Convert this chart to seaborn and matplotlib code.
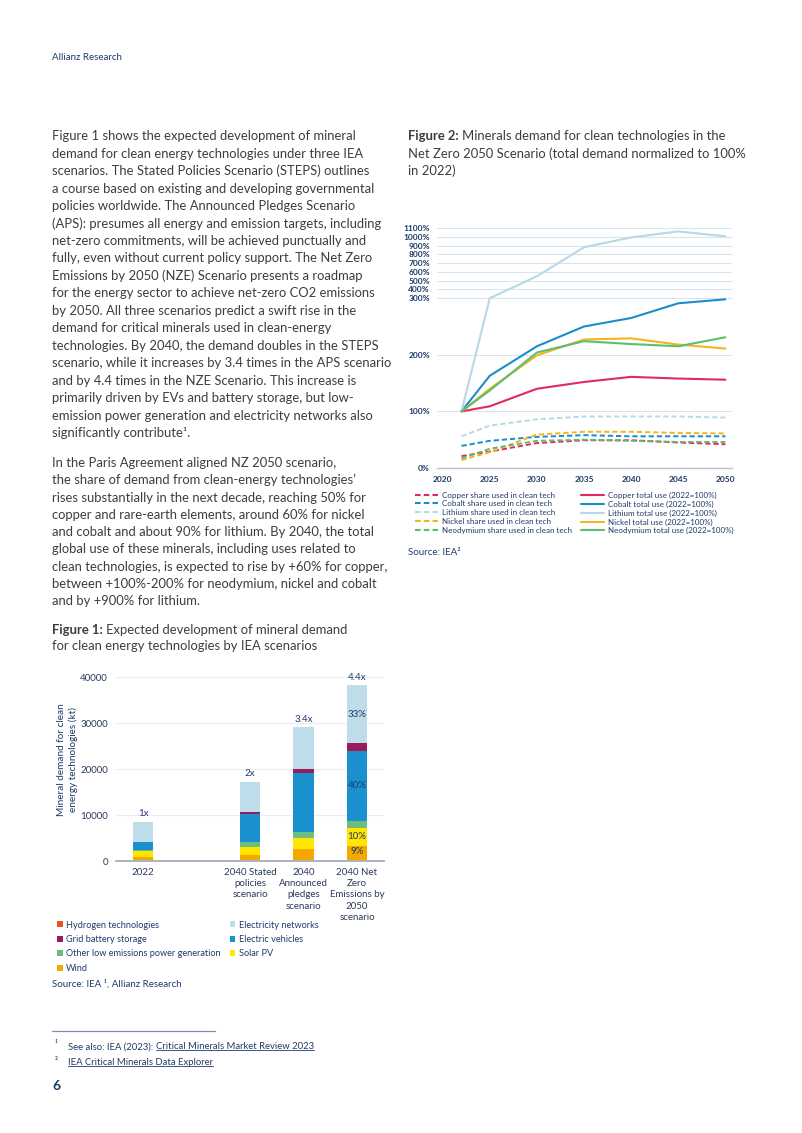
import numpy as np
import pandas as pd
import matplotlib.pyplot as plt
import seaborn as sns
from matplotlib.lines import Line2D
from matplotlib.patches import Patch
from matplotlib.transforms import IdentityTransform

W, H = 802, 1133
BODY = "#3d3d3d"
NAVY = "#1f3a6b"

# ---- Figure 1 data (kt of mineral demand, stacked) ----
categories = ["2022", "", "2040 Stated\npolicies\nscenario",
              "2040\nAnnounced\npledges\nscenario",
              "2040 Net\nZero\nEmissions by\n2050\nscenario"]
hydrogen = [60, 0, 150, 150, 200]
wind = [900, 0, 1230, 2460, 3130]
solar_pv = [1300, 0, 1740, 2540, 3990]
other_low = [250, 0, 1080, 1300, 1520]
electric_vehicles = [1650, 0, 6020, 12690, 15070]
grid_battery = [80, 0, 510, 1000, 1740]
networks = [4350, 0, 6570, 9000, 12680]
multipliers = ["1x", "", "2x", "3.4x", "4.4x"]

# ---- Figure 2 data (% , 2022 = 100%) ----
years = [2022, 2025, 2030, 2035, 2040, 2045, 2050]
copper_total = [100, 109, 140, 152, 161, 158, 156]
cobalt_total = [100, 163, 215, 250, 265, 291, 298]
lithium_total = [100, 300, 550, 880, 993, 1061, 1005]
nickel_total = [100, 140, 199, 227, 229, 218, 211]
neodymium_total = [100, 137, 204, 224, 219, 215, 231]
copper_share = [21, 29, 44, 49, 49, 45, 42]
cobalt_share = [39, 48, 55, 58, 56, 56, 56]
lithium_share = [56, 75, 86, 91, 91, 91, 89]
nickel_share = [14, 28, 59, 64, 64, 62, 61]
neodymium_share = [17, 34, 48, 50, 48, 46, 46]
minerals = ["Copper", "Cobalt", "Lithium", "Nickel", "Neodymium"]

para1 = [
    "Figure 1 shows the expected development of mineral",
    "demand for clean energy technologies under three IEA",
    "scenarios. The Stated Policies Scenario (STEPS) outlines",
    "a course based on existing and developing governmental",
    "policies worldwide. The Announced Pledges Scenario",
    "(APS): presumes all energy and emission targets, including",
    "net-zero commitments, will be achieved punctually and",
    "fully, even without current policy support. The Net Zero",
    "Emissions by 2050 (NZE) Scenario presents a roadmap",
    "for the energy sector to achieve net-zero CO2 emissions",
    "by 2050. All three scenarios predict a swift rise in the",
    "demand for critical minerals used in clean-energy",
    "technologies. By 2040, the demand doubles in the STEPS",
    "scenario, while it increases by 3.4 times in the APS scenario",
    "and by 4.4 times in the NZE Scenario. This increase is",
    "primarily driven by EVs and battery storage, but low-",
    "emission power generation and electricity networks also",
    "significantly contribute\u00b9.",
]
para2 = [
    "In the Paris Agreement aligned NZ 2050 scenario,",
    "the share of demand from clean-energy technologies\u2019",
    "rises substantially in the next decade, reaching 50% for",
    "copper and rare-earth elements, around 60% for nickel",
    "and cobalt and about 90% for lithium. By 2040, the total",
    "global use of these minerals, including uses related to",
    "clean technologies, is expected to rise by +60% for copper,",
    "between +100%-200% for neodymium, nickel and cobalt",
    "and by +900% for lithium.",
]

sns.set_theme(style="white")
plt.rcParams["font.family"] = ["Lato", "DejaVu Sans"]

fig = plt.figure(figsize=(W / 100, H / 100), dpi=100)


def fx(x):
    return x / W


def fy(y):
    return 1 - y / H


def put(x, y, s, size=9.4, color=BODY, weight="normal", **kw):
    # y is the visual centre of the line in pixels
    return fig.text(fx(x), fy(y + 3.6), s, fontsize=size, color=color,
                    fontweight=weight, va="baseline", ha="left", **kw)


def bold_lead(x, y, lead, rest, size=9.4):
    t = put(x, y, lead, size=size, weight="bold")
    return fig.add_artist(plt.Annotation(rest, xy=(1, 0), xycoords=t,
                                         xytext=(2.6, 0), textcoords="offset points",
                                         va="bottom", ha="left", fontsize=size,
                                         color=BODY))


# ---- page text ----
put(52, 56.5, "Allianz Research", size=7, color=NAVY)
for i, line in enumerate(para1):
    put(52, 136.7 + i * 17.45, line)
for i, line in enumerate(para2):
    put(52, 463.3 + i * 17.3, line)

bold_lead(52, 630, "Figure 1:", "Expected development of mineral demand")
put(52, 646.7, "for clean energy technologies by IEA scenarios")

bold_lead(408, 136.7, "Figure 2:", "Minerals demand for clean technologies in the")
put(408, 154.3, "Net Zero 2050 Scenario (total demand normalized to 100%")
put(408, 171.7, "in 2022)")

# ---- Figure 1: stacked bars ----
ax1 = fig.add_axes([fx(116.25), fy(861.3), fx(383.75) - fx(116.25), (861.3 - 677.3) / H])
layers = [
    ("Hydrogen technologies", hydrogen, "#e8561e"),
    ("Wind", wind, "#f5a800"),
    ("Solar PV", solar_pv, "#ffe500"),
    ("Other low emissions power generation", other_low, "#6dbd7d"),
    ("Electric vehicles", electric_vehicles, "#1a90cf"),
    ("Grid battery storage", grid_battery, "#9a1b5b"),
    ("Electricity networks", networks, "#bfdcea"),
]
pos = np.arange(len(categories))
bottom = np.zeros(len(categories))
for name, vals, col in layers:
    ax1.bar(pos, vals, bottom=bottom, width=0.385, color=col, linewidth=0, zorder=2)
    bottom += np.array(vals)

for p, lab, top in zip(pos, multipliers, bottom):
    if lab:
        ax1.annotate(lab, (p, top), xytext=(0, 2.5), textcoords="offset points",
                     ha="center", va="bottom", fontsize=7, color=NAVY)

# share labels inside the Net Zero bar
nz = len(categories) - 1
cum = np.cumsum([l[1][nz] for l in layers])
starts = cum - np.array([l[1][nz] for l in layers])
inside = {"Electricity networks": "33%", "Electric vehicles": "40%",
          "Solar PV": "10%", "Wind": "9%"}
for (name, vals, col), s0, s1 in zip(layers, starts, cum):
    if name in inside:
        ax1.text(nz, (s0 + s1) / 2 + (300 if name == "Wind" else 0), inside[name],
                 ha="center", va="center", fontsize=7, color=NAVY, zorder=3)

ax1.set_xlim(-0.5, len(categories) - 0.5)
ax1.set_ylim(0, 40000)
ax1.set_yticks(range(0, 40001, 10000))
ax1.set_yticklabels([str(v) for v in range(0, 40001, 10000)])
ax1.set_xticks(pos)
ax1.set_xticklabels(categories, linespacing=1.3)
ax1.tick_params(axis="both", length=0, labelsize=7, labelcolor="#2a3a5c")
ax1.tick_params(axis="y", pad=6)
ax1.tick_params(axis="x", pad=5)
ax1.yaxis.grid(True, color="#e9edf1", lw=0.8, zorder=0)
for side in ["top", "right", "left"]:
    ax1.spines[side].set_visible(False)
ax1.spines["bottom"].set_color("#a9b3c1")
ax1.spines["bottom"].set_linewidth(1.4)
ax1.set_facecolor("none")

fig.text(fx(67.5), fy(760), "Mineral demand for clean\nenergy technologies (kt)",
         rotation=90, ha="center", va="center", fontsize=7.2, color=NAVY, linespacing=1.25)

legend_order = ["Hydrogen technologies", "Grid battery storage",
                "Other low emissions power generation", "Wind",
                "Electricity networks", "Electric vehicles", "Solar PV"]
lcol = {name: col for name, vals, col in layers}
handles1 = [Patch(facecolor=lcol[n], edgecolor="none", label=n) for n in legend_order]
fig.legend(handles=handles1, loc="upper left", bbox_to_anchor=(fx(57), fy(920.5)),
           ncol=2, frameon=False, fontsize=6.6, handlelength=0.6, handleheight=0.6,
           handletextpad=0.4, labelspacing=0.6, columnspacing=1.0,
           borderpad=0, borderaxespad=0, labelcolor=NAVY)
put(52, 982.7, "Source: IEA \u00b9, Allianz Research", size=7, color=NAVY)

# ---- Figure 2: lines on a broken (compressed above 300%) scale ----
K = 0.155


def fwd(v):
    v = np.asarray(v, dtype=float)
    return np.where(v <= 300, v, 300 + (v - 300) * K)


def inv(t):
    t = np.asarray(t, dtype=float)
    return np.where(t <= 300, t, 300 + (t - 300) / K)


rows = []
shares = [copper_share, cobalt_share, lithium_share, nickel_share, neodymium_share]
totals = [copper_total, cobalt_total, lithium_total, nickel_total, neodymium_total]
for m, sh, tt in zip(minerals, shares, totals):
    for y, s, t in zip(years, sh, tt):
        rows.append({"year": y, "value": s, "mineral": m, "kind": "share"})
        rows.append({"year": y, "value": t, "mineral": m, "kind": "total"})
df = pd.DataFrame(rows)

palette = {"Copper": "#e22a5c", "Cobalt": "#1a8dc9", "Lithium": "#b8d7e7",
           "Nickel": "#f6b51b", "Neodymium": "#5dbd73"}
dash = (2.7, 1.5)

ax2 = fig.add_axes([fx(437), fy(468), fx(732) - fx(437), (468 - 228) / H])
ax2.set_yscale("function", functions=(fwd, inv))
sns.lineplot(data=df[df["kind"] == "share"], x="year", y="value", hue="mineral",
             palette=palette, linewidth=1.4, dashes=False, legend=False, ax=ax2)
for ln in ax2.get_lines():
    ln.set_dashes(dash)
sns.lineplot(data=df[df["kind"] == "total"], x="year", y="value", hue="mineral",
             palette=palette, linewidth=1.5, legend=False, ax=ax2)

ax2.set_xlim(2019.4, 2050.7)
ax2.set_ylim(0, 1100)
ax2.set_yticks(range(0, 1101, 100))
ax2.set_yticklabels([f"{v}%" for v in range(0, 1101, 100)])
ax2.set_xticks(range(2020, 2051, 5))
ax2.set_xlabel("")
ax2.set_ylabel("")
ax2.tick_params(axis="both", length=0, labelsize=6, labelcolor="#1f3864")
ax2.tick_params(axis="y", pad=5)
ax2.tick_params(axis="x", pad=6)
for lab in ax2.get_xticklabels() + ax2.get_yticklabels():
    lab.set_fontweight("bold")
ax2.yaxis.grid(True, color="#d8e5ef", lw=0.8)
ax2.xaxis.grid(False)
for side in ["top", "right", "left"]:
    ax2.spines[side].set_visible(False)
ax2.spines["bottom"].set_color("#b9c4d0")
ax2.spines["bottom"].set_linewidth(1.0)

handles2 = [Line2D([], [], color=palette[m], lw=1.5, dashes=dash,
                   label=f"{m} share used in clean tech") for m in minerals]
handles2 += [Line2D([], [], color=palette[m], lw=1.5,
                    label=f"{m} total use (2022=100%)") for m in minerals]
fig.legend(handles=handles2, loc="upper left", bbox_to_anchor=(fx(415), fy(491.5)),
           ncol=2, frameon=False, fontsize=5.8, handlelength=2.85,
           handletextpad=0.46, labelspacing=0.22, columnspacing=1.15,
           borderpad=0, borderaxespad=0, labelcolor=NAVY)
put(408, 551.7, "Source: IEA\u00b2", size=7, color=NAVY)

# ---- footnotes ----
fig.add_artist(Line2D([fx(52), fx(215)], [fy(1031), fy(1031)], color="#7b8fae", lw=0.9))
put(54.5, 1043.5, "\u00b9", size=6.5, color=NAVY)
t_see = put(68, 1045.5, "See also: IEA (2023):", size=6.8, color=NAVY)
link1 = fig.add_artist(plt.Annotation("Critical Minerals Market Review 2023", xy=(1, 0),
                                      xycoords=t_see, xytext=(2.2, 0),
                                      textcoords="offset points", va="bottom", ha="left",
                                      fontsize=6.8, color=NAVY))
put(54.5, 1060, "\u00b2", size=6.5, color=NAVY)
link2 = put(68, 1061.7, "IEA Critical Minerals Data Explorer", size=6.8, color=NAVY)
put(52, 1086.7, "6", size=10, color=NAVY, weight="bold")

fig.canvas.draw()
for t in [link1, link2]:
    bb = t.get_window_extent()
    fig.add_artist(Line2D([bb.x0, bb.x1], [bb.y0 + 1.2, bb.y0 + 1.2], transform=IdentityTransform(),
                          color=NAVY, lw=0.6))

fig.savefig("out.png", dpi=100, facecolor="white")
